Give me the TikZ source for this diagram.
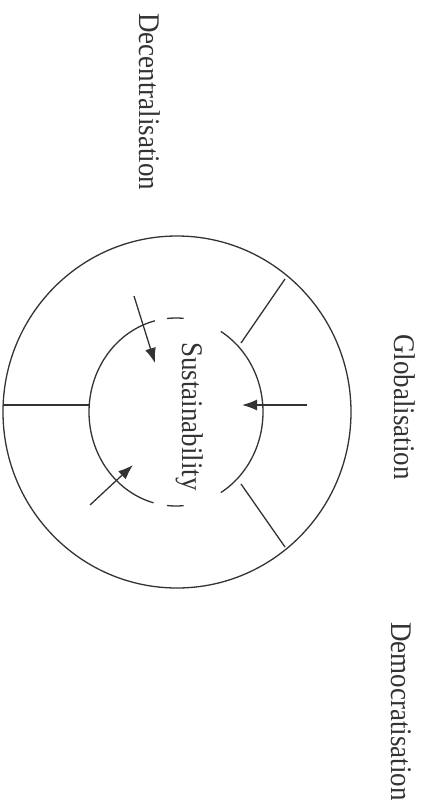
\documentclass[tikz,border=0pt]{standalone}
\usepackage{fontspec}
\setmainfont{Liberation Serif}
\usetikzlibrary{arrows.meta}
\newcommand{\narrowtext}[1]{\scalebox{0.9}[1]{#1}}
\begin{document}
\begin{tikzpicture}[x=1pt,y=-1pt,
  ink/.style={draw=black!80, line width=1.3pt},
  arr/.style={ink, -{Latex[length=15pt,width=11pt]}},
  lbl/.style={rotate=-90, anchor=base west, inner sep=0pt, text=black!80, font=\fontsize{30}{34}\selectfont}]
\useasboundingbox (0,0) rectangle (426,806);
\fill[white] (0,0) rectangle (426,806);
% outer circle
\coordinate (c) at (177,412);
\draw[ink] (c) ellipse [x radius=174pt, y radius=176pt];
% inner circle, broken into arcs
\draw[ink] plot[domain=105:256, samples=80, smooth] ({176+87*cos(\x)},{412+94*sin(\x)});
\draw[ink] plot[domain=-59:59, samples=60, smooth] ({176+87*cos(\x)},{412+94*sin(\x)});
\draw[ink] plot[domain=264:275, samples=8, smooth] ({176+87*cos(\x)},{412+94*sin(\x)});
\draw[ink] plot[domain=85:96, samples=8, smooth] ({176+87*cos(\x)},{412+94*sin(\x)});
% spokes
\coordinate (o1) at (3,405);   \coordinate (i1) at (89,405);
\coordinate (o2) at (285,279); \coordinate (i2) at (241,343);
\coordinate (o3) at (285,547); \coordinate (i3) at (241,484);
\draw[ink] (o1) -- (i1);
\draw[ink] (i2) -- (o2);
\draw[ink] (i3) -- (o3);
% arrows
\coordinate (a1s) at (307,405); \coordinate (a1e) at (242,405);
\coordinate (a2s) at (134,296); \coordinate (a2e) at (155,363);
\coordinate (a3s) at (90,505);  \coordinate (a3e) at (133,465);
\draw[arr] (a1s) -- (a1e);
\draw[arr] (a2s) -- (a2e);
\draw[arr] (a3s) -- (a3e);
% labels
\node[lbl] (dec) at (139,13) {\narrowtext{Decentralisation}};
\node[lbl] (sus) at (182,342) {\narrowtext{Sustainability}};
\node[lbl] (glo) at (394,334) {\narrowtext{Globalisation}};
\node[lbl] (dem) at (391,622) {\narrowtext{Democratisation}};
\end{tikzpicture}
\end{document}
